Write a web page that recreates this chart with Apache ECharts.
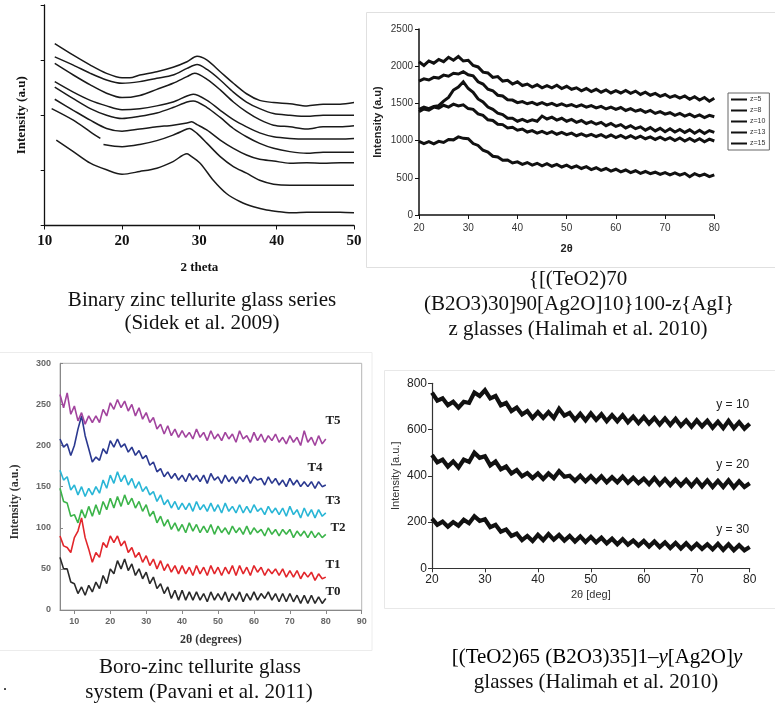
<!DOCTYPE html>
<html><head><meta charset="utf-8">
<script src="https://cdn.jsdelivr.net/npm/echarts@6/dist/echarts.min.js"></script>
<style>html,body{margin:0;padding:0;background:#fff}#c{width:775px;height:704px}</style>
</head><body><div id="c"></div><script>
// ---------- Panel 1: binary zinc tellurite (Sidek et al. 2009), [2θ, intensity] ----------
const sidekA = [[11.3,330],[13.7,309],[15.9,291],[18,276],[20,268],[21,268],[22.3,273],[24.5,279],[26.6,287],[28.4,297],[29.7,307],[31,300],[32.7,279],[34.4,258],[36.1,239],[37.8,227],[39.6,223],[41.7,221],[43.9,217],[46,220],[48.2,220],[50,223]];
const sidekB = [[11.3,306],[13.7,291],[15.9,276],[18,264],[20,258],[22.3,261],[24.5,267],[26.6,273],[28.4,285],[29.7,292],[31,283],[32.7,264],[34.4,242],[36.1,224],[37.8,212],[39.6,203],[41.7,200],[43.9,198],[46,200],[48.2,200],[50,200]];
const sidekC = [[11.3,294],[13.7,273],[15.9,255],[18,240],[20,232],[22.3,236],[24.5,247],[26.6,258],[28.4,270],[29.4,276],[31,265],[32.7,246],[34.4,224],[36.1,206],[37.8,192],[39.6,182],[41.7,179],[43.9,175],[46,179],[48.2,179],[50,181]];
const sidekD = [[11.3,261],[13.7,242],[15.9,227],[18,217],[20,210],[22.3,212],[24.5,217],[26.6,224],[28.4,235],[29.2,238],[31,227],[32.7,209],[34.4,192],[36.1,179],[37.8,168],[39.6,161],[41.7,158],[43.9,157],[46,157],[48.2,157],[50,158]];
const sidekE = [[11.3,251],[13.7,230],[15.9,212],[18,200],[20,194],[22.3,198],[24.5,204],[26.6,214],[28.4,224],[29.2,226],[31,214],[32.7,196],[34.4,176],[36.1,161],[37.8,149],[39.6,140],[41.7,134],[43.9,131],[46,133],[48.2,133],[50,133]];
const sidekF = [[11.3,229],[13.7,209],[15.9,191],[18,176],[20,171],[22.3,175],[24.5,179],[26.6,182],[28.4,186],[29,188],[29.7,183],[31,173],[32.7,155],[34.4,140],[36.1,128],[37.8,120],[39.6,117],[41.7,113],[43.9,114],[46,113],[48.2,114],[50,114]];
const sidekG = [[10.9,212],[13.7,191],[15.9,170],[17.2,158],[17.4,null],[17.6,147],[20,143],[22.3,147],[24.5,154],[26.6,164],[28.4,175],[28.7,176],[29.7,167],[31,149],[32.7,125],[34.4,107],[36.1,95],[37.8,82],[39.6,75],[41.7,73],[43.9,73],[46,73],[48.2,73],[50,73]];
const sidekH = [[11.5,155],[13.7,134],[15.9,113],[18,101],[20,93],[22.3,98],[24.5,104],[26.6,116],[28.4,130],[28.7,128],[30.1,113],[31.8,82],[33.5,58],[35.3,43],[37,34],[38.7,28],[40.4,25],[42.2,23],[43.9,24],[46,24],[48.2,24],[50,23]];
const sidekCurves = [sidekA, sidekB, sidekC, sidekD, sidekE, sidekF, sidekG, sidekH];

// ---------- Panel 2: AgI-doped glasses (Halimah et al. 2010) ----------
const angle2 = [20,21,22,23,24,25,26,27,28,29,30,31,32,33,34,35,36,37,38,39,40,41,42,43,44,45,46,47,48,49,50,51,52,53,54,55,56,57,58,59,60,61,62,63,64,65,66,67,68,69,70,71,72,73,74,75,76,77,78,79,80];
const zNames = ['z=5','z=8','z=10','z=13','z=15'];
const z5 = [2060,2010,2070,2040,2090,2060,2120,2080,2130,2070,
  2080,2010,1990,1920,1910,1850,1860,1800,1810,1760,
  1790,1740,1760,1720,1750,1710,1740,1710,1745,1700,
  1730,1690,1710,1670,1700,1660,1690,1650,1680,1640,
  1670,1640,1675,1635,1665,1620,1650,1610,1635,1595,
  1620,1580,1605,1570,1600,1555,1590,1545,1580,1530,
  1570];
const z8 = [1800,1830,1815,1850,1840,1880,1865,1905,1895,1925,
  1885,1870,1790,1760,1690,1670,1610,1600,1550,1545,
  1510,1525,1495,1515,1485,1510,1480,1500,1470,1495,
  1465,1485,1455,1480,1450,1470,1440,1460,1425,1450,
  1420,1445,1405,1430,1395,1415,1380,1405,1365,1390,
  1355,1375,1340,1365,1330,1355,1320,1345,1310,1340,
  1320];
const z10 = [1420,1450,1430,1460,1470,1530,1580,1680,1720,1790,
  1700,1650,1560,1520,1450,1420,1370,1350,1300,1300,
  1260,1285,1255,1280,1260,1330,1290,1315,1275,1300,
  1260,1285,1245,1270,1230,1255,1220,1245,1200,1230,
  1190,1215,1170,1200,1160,1185,1140,1175,1130,1165,
  1120,1160,1115,1150,1110,1145,1100,1140,1095,1135,
  1110];
const z13 = [1390,1425,1410,1450,1435,1475,1450,1490,1465,1480,
  1430,1420,1360,1340,1280,1270,1220,1215,1170,1180,
  1140,1155,1115,1135,1100,1125,1095,1120,1085,1110,
  1080,1100,1065,1090,1060,1085,1055,1080,1045,1075,
  1040,1070,1035,1065,1030,1060,1025,1050,1015,1045,
  1010,1040,1000,1035,995,1030,990,1025,985,1020,
  995];
const z15 = [990,960,985,955,990,975,1015,1010,1050,1030,
  1025,960,935,870,845,790,780,735,740,700,
  715,680,705,670,695,660,690,655,680,645,
  670,635,660,625,650,610,635,600,625,590,
  615,580,605,570,595,560,585,555,575,545,
  570,540,565,535,560,515,555,525,550,515,
  540];
const zSeries = [z5, z8, z10, z13, z15];

// ---------- Panel 3: boro-zinc tellurite (Pavani et al. 2011) ----------
const angle3 = [6,7,8,9,10,11,12,13,14,15,16,17,18,19,20,21,22,23,24,25,26,27,28,29,30,31,32,33,34,35,36,37,38,39,40,41,42,43,44,45,46,47,48,49,50,51,52,53,54,55,56,57,58,59,60,61,62,63,64,65,66,67,68,69,70,71,72,73,74,75,76,77,78,79,80];
const tNames = ['T0','T1','T2','T3','T4','T5'];
const tColors = ['#2a2a2a','#e2262b','#3cb44a','#29b6d6','#2b3990','#a2449e'];
const tLabelAt = [[82,22],[82,55],[83.4,100],[82,133],[77,173],[82,230]];
const T0 = [64,50,50,34,32,20,28,18,30,22, 34,26,42,32,50,44,60,50,62,48, 56,42,50,38,46,32,40,26,32,20, 28,14,24,12,24,12,22,12,22,12, 20,10,22,12,20,12,22,10,20,12, 22,10,20,12,22,12,20,14,22,12, 20,10,20,10,20,10,18,8,18,8, 18,8,16,8,14];
const T1 = [90,78,76,70,88,96,112,88,74,58, 70,64,82,76,90,82,90,78,84,70, 76,64,70,58,66,54,62,50,60,48, 56,46,54,44,54,44,52,42,54,44, 52,42,54,44,52,42,52,44,54,42, 54,44,52,42,54,46,52,42,50,44, 50,42,50,40,48,40,48,38,46,40, 46,36,44,38,40];
const T2 = [148,132,130,114,116,106,122,112,126,114, 128,116,132,122,136,124,138,126,140,128, 136,124,132,120,128,114,120,106,114,102, 110,98,106,96,104,94,106,96,104,94, 102,94,104,92,102,94,100,92,102,94, 100,92,102,92,100,94,98,90,100,92, 98,90,98,92,98,88,96,90,96,88, 96,88,94,88,92];
const T3 = [170,158,162,146,152,140,150,138,148,140, 150,142,158,148,164,154,168,156,164,152, 160,148,156,144,150,140,144,132,140,128, 134,124,132,122,130,122,130,120,132,122, 128,120,130,120,128,118,130,120,126,118, 128,118,126,118,128,120,124,116,126,118, 124,116,124,114,126,116,122,112,124,114, 122,112,122,114,118];
const T4 = [208,198,202,188,200,220,236,212,196,180, 186,182,196,190,206,198,208,198,202,192, 198,188,194,184,188,176,180,168,172,162, 168,160,166,158,164,156,166,158,164,156, 164,154,166,158,162,154,164,156,162,154, 162,156,164,154,162,158,160,152,162,154, 160,152,158,150,160,152,158,150,156,150, 156,148,156,150,152];
const T5 = [262,246,264,238,248,230,240,226,236,228, 236,228,244,236,252,244,256,246,254,242, 250,236,246,232,240,228,234,220,226,214, 224,212,220,210,218,210,216,208,220,210, 216,206,218,208,214,206,216,208,214,204, 218,208,212,204,216,206,214,204,212,206, 214,204,210,202,212,204,210,200,218,204, 210,200,212,202,208];
const tSeries = [T0, T1, T2, T3, T4, T5];

// ---------- Panel 4: Ag2O-doped glasses (Halimah et al. 2010) ----------
const angle4 = angle2;
const yNames = ['y = 10','y = 20','y = 30'];
const yLabelAt = [[76.8,706],[76.8,447],[76.8,166]];
const y10 = [760,725,735,705,720,695,720,715,760,745, 770,735,745,705,715,680,695,665,680,650, 675,650,675,650,690,660,672,642,668,640, 670,642,666,636,662,636,662,632,656,628, 654,626,650,622,648,620,646,616,640,612, 640,614,638,608,634,606,638,606,632,604, 625];
const y20 = [490,458,470,440,462,436,470,460,500,478, 485,445,462,428,440,410,425,398,412,390, 410,386,410,390,420,396,400,378,400,376, 398,374,398,372,394,372,396,370,392,368, 388,364,390,362,386,360,384,358,382,356, 382,354,380,352,378,352,380,350,376,352, 368];
const y30 = [215,188,202,180,200,184,210,195,225,205, 212,178,188,158,168,140,150,122,140,118, 145,122,148,124,144,120,140,116,138,114, 136,112,132,108,128,104,126,102,120,98, 118,94,116,92,112,88,110,86,108,84, 106,84,104,82,106,80,104,78,100,78, 92];
const ySeries = [y10, y20, y30];

// ---------- Fonts ----------
const SERIF = '"Liberation Serif", "Times New Roman", serif';
const SANS = '"Liberation Sans", Arial, sans-serif';
const capFont = '21px ' + SERIF;

const zip = (xs, ys) => xs.map((x, i) => [x, ys[i]]);
const plain = v => String(v);

const series = [];
sidekCurves.forEach((c, i) => series.push({
  type: 'line', name: 'S' + i, xAxisIndex: 0, yAxisIndex: 0, data: c,
  showSymbol: false, smooth: 0.3, connectNulls: false,
  lineStyle: { color: '#1a1a1a', width: 1.5 }, silent: true
}));
zSeries.forEach((ys, i) => series.push({
  type: 'line', name: zNames[i], xAxisIndex: 1, yAxisIndex: 1, data: zip(angle2, ys),
  showSymbol: false, color: '#111', lineStyle: { color: '#111', width: 3, join: 'miter' }, silent: true
}));
tSeries.forEach((ys, i) => series.push({
  type: 'line', name: tNames[i], xAxisIndex: 2, yAxisIndex: 2, data: zip(angle3, ys),
  showSymbol: false, lineStyle: { color: tColors[i], width: 1.6 }, silent: true,
  markPoint: {
    symbol: 'rect', symbolSize: 0.1, silent: true,
    data: [{ coord: tLabelAt[i] }],
    label: { show: true, position: 'inside', formatter: tNames[i], color: '#222',
      fontFamily: SERIF, fontWeight: 'bold', fontSize: 13 }
  }
}));
ySeries.forEach((ys, i) => series.push({
  type: 'line', name: yNames[i], xAxisIndex: 3, yAxisIndex: 3, data: zip(angle4, ys),
  showSymbol: false, lineStyle: { color: '#111', width: 4.2, join: 'miter' }, silent: true,
  markPoint: {
    symbol: 'rect', symbolSize: 0.1, silent: true,
    data: [{ coord: yLabelAt[i] }],
    label: { show: true, position: 'inside', formatter: yNames[i], color: '#222',
      fontFamily: SANS, fontSize: 12 }
  }
}));

const capText = (text, x, y, extra) => ({
  type: 'text', x: x, y: y, silent: true,
  style: Object.assign({ text: text, font: capFont, fill: '#111', textAlign: 'center', textVerticalAlign: 'middle' }, extra || {})
});

const option = {
  animation: false,
  backgroundColor: '#fff',
  grid: [
    { left: 44.7, top: 5, width: 309.3, height: 220.5 },
    { left: 419, top: 29, width: 295.3, height: 186 },
    { left: 60, top: 363.3, width: 301.7, height: 246.7, show: true, borderColor: '#b5b5b5', borderWidth: 1, backgroundColor: 'transparent' },
    { left: 432, top: 383.3, width: 317.7, height: 185 }
  ],
  xAxis: [
    { gridIndex: 0, type: 'value', min: 10, max: 50, interval: 10,
      axisLine: { lineStyle: { color: '#111', width: 1.3 } },
      axisTick: { length: 4, lineStyle: { color: '#111' } },
      splitLine: { show: false },
      axisLabel: { fontFamily: SERIF, fontWeight: 'bold', fontSize: 15, color: '#111', margin: 8 },
      name: '2 theta', nameLocation: 'middle', nameGap: 36,
      nameTextStyle: { fontFamily: SERIF, fontWeight: 'bold', fontSize: 13, color: '#111' } },
    { gridIndex: 1, type: 'value', min: 20, max: 80, interval: 10,
      axisLine: { lineStyle: { color: '#111', width: 1.5 } },
      axisTick: { length: 4, lineStyle: { color: '#111' } },
      splitLine: { show: false },
      axisLabel: { fontFamily: SANS, fontSize: 10, color: '#333', margin: 8, formatter: plain },
      name: '2θ', nameLocation: 'middle', nameGap: 28,
      nameTextStyle: { fontFamily: SANS, fontWeight: 'bold', fontSize: 11, color: '#222' } },
    { gridIndex: 2, type: 'value', min: 6, max: 90,
      axisLine: { lineStyle: { color: '#888', width: 1 } },
      axisTick: { length: 4, lineStyle: { color: '#888' }, customValues: [10,20,30,40,50,60,70,80,90] },
      splitLine: { show: false },
      axisLabel: { fontFamily: SANS, fontWeight: 'bold', fontSize: 9, color: '#666', margin: 7, customValues: [10,20,30,40,50,60,70,80,90] },
      name: '2θ (degrees)', nameLocation: 'middle', nameGap: 24,
      nameTextStyle: { fontFamily: SERIF, fontWeight: 'bold', fontSize: 12, color: '#333' } },
    { gridIndex: 3, type: 'value', min: 20, max: 80, interval: 10,
      axisLine: { lineStyle: { color: '#333', width: 1.2 } },
      axisTick: { length: 4, lineStyle: { color: '#333' } },
      splitLine: { show: false },
      axisLabel: { fontFamily: SANS, fontSize: 12, color: '#222', margin: 5 },
      name: '2θ [deg]', nameLocation: 'middle', nameGap: 21,
      nameTextStyle: { fontFamily: SANS, fontSize: 11, color: '#333' } }
  ],
  yAxis: [
    { gridIndex: 0, type: 'value', min: 0, max: 400, interval: 100,
      axisLine: { show: true, lineStyle: { color: '#111', width: 1.3 } },
      axisTick: { show: true, length: 4, lineStyle: { color: '#111' } },
      axisLabel: { show: false }, splitLine: { show: false },
      name: 'Intensity (a.u)', nameLocation: 'middle', nameGap: 17,
      nameTextStyle: { fontFamily: SERIF, fontWeight: 'bold', fontSize: 13, color: '#111' } },
    { gridIndex: 1, type: 'value', min: 0, max: 2500, interval: 500,
      axisLine: { show: true, lineStyle: { color: '#111', width: 1.5 } },
      axisTick: { show: true, length: 4, lineStyle: { color: '#111' } },
      axisLabel: { fontFamily: SANS, fontSize: 10, color: '#333', margin: 6, formatter: plain }, splitLine: { show: false },
      name: 'Intensity (a.u)', nameLocation: 'middle', nameGap: 36,
      nameTextStyle: { fontFamily: SANS, fontWeight: 'bold', fontSize: 11, color: '#222' } },
    { gridIndex: 2, type: 'value', min: 0, max: 300, interval: 50,
      axisLine: { show: true, lineStyle: { color: '#888', width: 1 } },
      axisTick: { show: true, inside: true, length: 3, lineStyle: { color: '#888' } },
      axisLabel: { fontFamily: SANS, fontWeight: 'bold', fontSize: 9, color: '#666', margin: 9 }, splitLine: { show: false } },
    { gridIndex: 3, type: 'value', min: 0, max: 800, interval: 200,
      axisLine: { show: true, lineStyle: { color: '#333', width: 1.2 } },
      axisTick: { show: true, length: 4, lineStyle: { color: '#333' } },
      axisLabel: { fontFamily: SANS, fontSize: 12, color: '#222', margin: 5, formatter: plain }, splitLine: { show: false },
      name: 'Intensity [a.u.]', nameLocation: 'middle', nameGap: 31,
      nameTextStyle: { fontFamily: SANS, fontSize: 11, color: '#333' } }
  ],
  legend: {
    data: zNames, orient: 'vertical', left: 728, top: 93,
    icon: 'rect', itemWidth: 16, itemHeight: 2, itemGap: 4,
    padding: [3, 4, 3, 3], borderColor: '#666', borderWidth: 1,
    selectedMode: false,
    textStyle: { fontFamily: SANS, fontSize: 7, color: '#333', padding: [0, 0, 0, -2] }
  },
  graphic: [
    // panel frames
    { type: 'rect', silent: true, shape: { x: 366.5, y: 12.5, width: 420, height: 255 }, style: { fill: 'none', stroke: '#e0e0e0', lineWidth: 1 } },
    { type: 'rect', silent: true, shape: { x: -1, y: 352.5, width: 373, height: 298 }, style: { fill: 'none', stroke: '#ececec', lineWidth: 1 } },
    { type: 'rect', silent: true, shape: { x: 384.5, y: 370.5, width: 400, height: 238 }, style: { fill: 'none', stroke: '#e8e8e8', lineWidth: 1 } },
    // rotated axis title of panel 3
    { type: 'text', x: 15, y: 502, rotation: Math.PI / 2, silent: true,
      style: { text: 'Intensity (a.u.)', font: 'bold 12px ' + SERIF, fill: '#333', textAlign: 'center', textVerticalAlign: 'middle' } },
    // captions
    capText('Binary zinc tellurite glass series', 202, 300),
    capText('(Sidek et al. 2009)', 202, 323),
    capText('{[(TeO2)70', 578, 279),
    capText('(B2O3)30]90[Ag2O]10}100-z{AgI}', 579, 304),
    capText('z glasses (Halimah et al. 2010)', 578, 329),
    capText('Boro-zinc tellurite glass', 200, 667),
    capText('system (Pavani et al. 2011)', 199, 692),
    { type: 'text', x: 597, y: 657, silent: true,
      style: { text: '{n|[(TeO2)65 (B2O3)35]1–}{i|y}{n|[Ag2O]}{i|y}',
        textAlign: 'center', textVerticalAlign: 'middle',
        rich: { n: { fontFamily: SERIF, fontSize: 21, color: '#111' },
                i: { fontFamily: SERIF, fontSize: 21, fontStyle: 'italic', color: '#111' } } } },
    capText('glasses (Halimah et al. 2010)', 596, 682),
    capText('.', 5, 686, { font: '16px ' + SERIF })
  ],
  series: series
};

const chart = echarts.init(document.getElementById('c'), null, { renderer: 'canvas', width: 775, height: 704 });
chart.setOption(option);
</script></body></html>
